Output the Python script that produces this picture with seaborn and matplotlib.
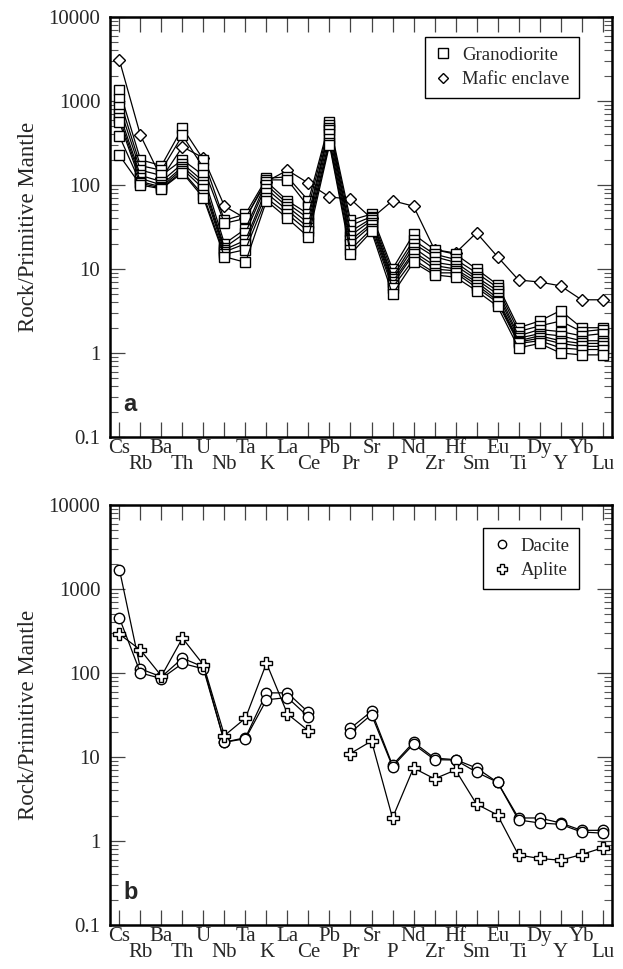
import numpy as np
import pandas as pd
import matplotlib
matplotlib.use("Agg")
import matplotlib.pyplot as plt
import seaborn as sns
from matplotlib.lines import Line2D
from matplotlib.ticker import FixedLocator, FixedFormatter, NullFormatter, LogLocator

# ---------------- data ----------------
elements = ["Cs", "Rb", "Ba", "Th", "U", "Nb", "Ta", "K", "La", "Ce", "Pb", "Pr",
            "Sr", "P", "Nd", "Zr", "Hf", "Sm", "Eu", "Ti", "Dy", "Y", "Yb", "Lu"]

gd1 = [1350, 200, 170, 480, 200, 38, 45, 120, 125, 65, 560, 38, 45, 10, 26, 17, 15, 10, 6.5, 2.0, 2.4, 3.2, 2.0, 2.0]
gd2 = [1050, 170, 150, 390, 160, 35, 40, 115, 115, 55, 520, 33, 42, 9, 22, 15, 13, 9, 6.0, 1.8, 2.1, 2.4, 1.8, 1.9]
gd3 = [850, 150, 130, 200, 130, 20, 30, 110, 65, 45, 480, 28, 40, 8, 20, 14, 12, 8, 5.5, 1.6, 1.9, 1.8, 1.6, 1.7]
gd4 = [700, 130, 110, 180, 110, 18, 27, 100, 60, 40, 450, 25, 38, 7.5, 18, 12, 11, 7.5, 5.0, 1.5, 1.7, 1.6, 1.4, 1.4]
gd5 = [620, 120, 100, 165, 100, 17, 22, 90, 55, 35, 400, 22, 35, 7, 16, 11, 10, 7, 4.5, 1.4, 1.6, 1.4, 1.3, 1.3]
gd6 = [560, 110, 95, 155, 90, 16, 20, 80, 50, 31, 350, 20, 33, 6.5, 15, 10, 9.5, 6.5, 4.2, 1.35, 1.5, 1.3, 1.2, 1.2]
gd7 = [380, 105, 92, 145, 75, 15, 17, 70, 45, 28, 320, 17, 30, 6, 13, 9, 9, 6, 4.0, 1.3, 1.4, 1.15, 1.1, 1.1]
gd8 = [225, 100, 90, 140, 70, 14, 12, 65, 40, 24, 300, 15, 28, 5, 12, 8.5, 8, 5.5, 3.6, 1.15, 1.3, 1.0, 0.95, 0.95]
mafic = [3050, 390, 120, 285, 210, 56, 40, 110, 150, 105, 72, 68, 40, 65, 56, 17, 15.5, 27, 14, 7.4, 7.0, 6.3, 4.3, 4.3]

nan = np.nan
dacite1 = [1700, 112, 90, 150, 118, 15, 17, 58, 58, 34, nan, 22, 35, 8.0, 15, 9.7, 9.3, 7.4, 5.0, 1.88, 1.88, 1.64, 1.34, 1.34]
dacite2 = [450, 100, 86, 130, 112, 15, 16.5, 48, 51, 30, nan, 19.5, 32, 7.7, 14.2, 9.3, 9.2, 6.6, 5.0, 1.78, 1.64, 1.58, 1.28, 1.24]
aplite = [290, 188, 92, 260, 125, 18, 29, 131, 32.5, 20.5, nan, 11, 15.5, 1.88, 7.4, 5.5, 7.0, 2.75, 2.04, 0.68, 0.62, 0.59, 0.69, 0.83]

ytick_vals = [0.1, 1, 10, 100, 1000, 10000]
ytick_labels = ["0.1", "1", "10", "100", "1000", "10000"]


def long_df(series_dict):
    rows = []
    for name, vals in series_dict.items():
        for i, v in enumerate(vals):
            if np.isnan(v):
                continue
            seg = "L" if i < elements.index("Pb") else "R"
            rows.append({"sample": name, "unit": f"{name}_{seg}", "x": i, "y": v})
    return pd.DataFrame(rows)


df_gd = long_df({f"G{k}": s for k, s in enumerate([gd1, gd2, gd3, gd4, gd5, gd6, gd7, gd8])})
df_gd["unit"] = df_gd["sample"]
df_mf = long_df({"M": mafic})
df_mf["unit"] = df_mf["sample"]
df_dc = long_df({"D1": dacite1, "D2": dacite2})
df_ap = long_df({"A": aplite})

# ---------------- style ----------------
sns.set_theme(style="ticks")
plt.rcParams["font.family"] = ["Liberation Serif", "DejaVu Serif"]

fig = plt.figure(figsize=(6.23, 9.69), dpi=100)
W, H = 623, 969
ax1 = fig.add_axes([110 / W, 1 - 437 / H, 502 / W, 420 / H])
ax2 = fig.add_axes([110 / W, 1 - 925 / H, 502 / W, 420 / H])

common = dict(estimator=None, sort=False, color="black", linewidth=0.9,
              markerfacecolor="white", markeredgecolor="black", markeredgewidth=1.0,
              legend=False)

sns.lineplot(data=df_mf, x="x", y="y", units="unit", marker="D", markersize=6.5, ax=ax1, **common)
sns.lineplot(data=df_gd, x="x", y="y", units="unit", marker="s", markersize=7.5, ax=ax1, **common)
sns.lineplot(data=df_dc, x="x", y="y", units="unit", marker="o", markersize=7.5, ax=ax2, **common)
sns.lineplot(data=df_ap, x="x", y="y", units="unit", marker="P", markersize=9, ax=ax2, **common)

even = list(range(0, len(elements), 2))
odd = list(range(1, len(elements), 2))

for ax, letter in ((ax1, "a"), (ax2, "b")):
    ax.set_yscale("log")
    ax.set_ylim(0.1, 10000)
    ax.set_xlim(-0.45, len(elements) - 0.55)
    ax.yaxis.set_major_locator(FixedLocator(ytick_vals))
    ax.yaxis.set_major_formatter(FixedFormatter(ytick_labels))
    ax.yaxis.set_minor_locator(LogLocator(base=10, subs=np.arange(2, 10), numticks=20))
    ax.yaxis.set_minor_formatter(NullFormatter())
    ax.set_xticks(even)
    ax.set_xticklabels([elements[i] for i in even])
    ax.set_xticks(odd, minor=True)
    ax.set_xticklabels([elements[i] for i in odd], minor=True)
    ax.tick_params(axis="x", which="both", direction="in", top=True, bottom=True,
                   length=11, width=0.9, color="#444444", labelsize=15)
    ax.tick_params(axis="x", which="major", pad=1.5)
    ax.tick_params(axis="x", which="minor", pad=13)
    ax.tick_params(axis="y", which="major", direction="in", left=True, right=True,
                   length=11, width=0.9, color="#444444", labelsize=15, pad=7)
    ax.tick_params(axis="y", which="minor", direction="in", left=True, right=True,
                   length=6, width=0.8, color="#555555")
    for sp in ax.spines.values():
        sp.set_linewidth(1.8)
        sp.set_color("black")
    ax.set_xlabel("")
    ax.set_ylabel("Rock/Primitive Mantle", fontsize=16.5)
    ax.yaxis.set_label_coords(-0.142, 0.5)
    ax.text(0.027, 0.062, letter, transform=ax.transAxes, fontsize=17,
            fontweight="bold", family=["Liberation Sans", "DejaVu Sans"])

def proxy(marker, ms):
    return Line2D([], [], linestyle="none", marker=marker, markersize=ms,
                  markerfacecolor="white", markeredgecolor="black", markeredgewidth=1.0)

leg1 = ax1.legend([proxy("s", 6.5), proxy("D", 5.5)], ["Granodiorite", "Mafic enclave"],
                  loc="upper right", bbox_to_anchor=(0.934, 0.952), borderaxespad=0,
                  fontsize=13.5, frameon=True, fancybox=False, handlelength=1.0,
                  handletextpad=0.5, borderpad=0.5, labelspacing=0.4)
leg2 = ax2.legend([proxy("o", 6.0), proxy("P", 7.5)], ["Dacite", "Aplite"],
                  loc="upper right", bbox_to_anchor=(0.934, 0.945), borderaxespad=0,
                  fontsize=13.5, frameon=True, fancybox=False, handlelength=1.0,
                  handletextpad=0.5, borderpad=0.5, labelspacing=0.4)
for leg in (leg1, leg2):
    fr = leg.get_frame()
    fr.set_edgecolor("black")
    fr.set_linewidth(1.0)
    fr.set_alpha(1)
leg2._legend_box.align = "left"

fig.savefig("out.png", dpi=100, facecolor="white")
